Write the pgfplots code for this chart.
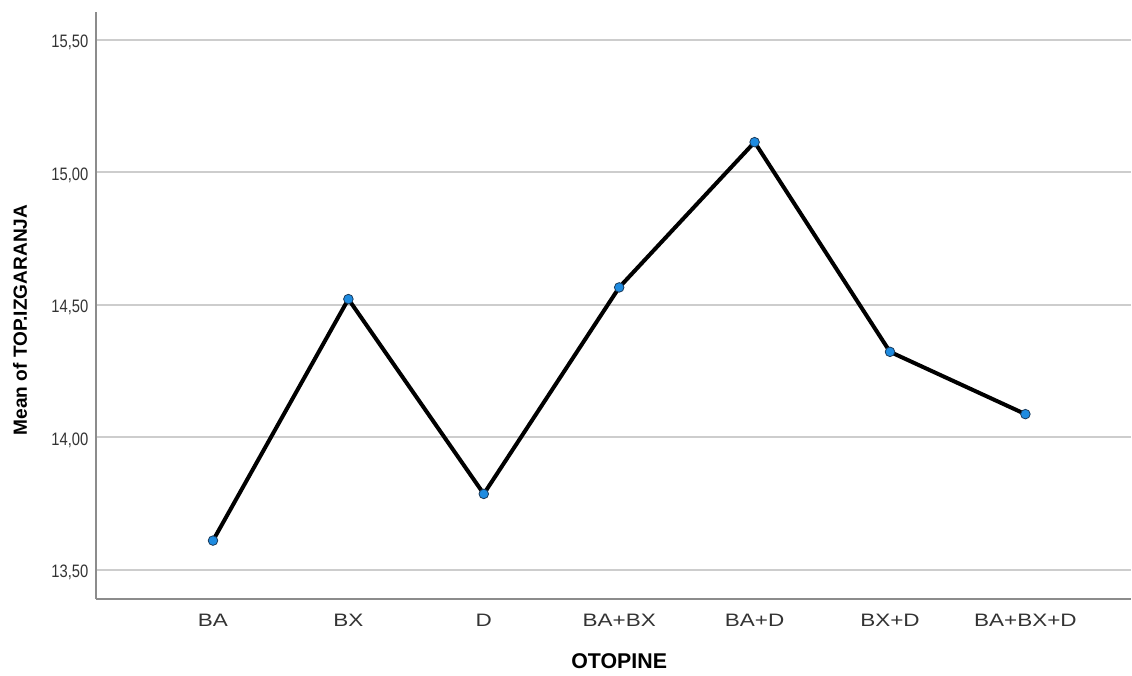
\documentclass[border=0pt]{standalone}
\usepackage{fontspec}
\setmainfont{Liberation Sans}
\newfontfamily\xtfont[FakeStretch=1.25]{Liberation Sans}
\newfontfamily\ytfont[FakeStretch=0.82]{Liberation Sans}
\usepackage{pgfplots}
\pgfplotsset{compat=1.18}
\definecolor{gridc}{HTML}{CDCDCD}
\definecolor{axc}{HTML}{8C8C8C}
\definecolor{markc}{HTML}{1E8BE0}
\definecolor{markd}{HTML}{1A3A5A}
\definecolor{txt}{HTML}{333333}
\begin{document}
\begin{tikzpicture}
\begin{axis}[
  scale only axis, width=776.5pt, height=440pt,
  xmin=-0.866, xmax=6.78, ymin=13.392, ymax=15.605,
  axis x line*=bottom, axis y line*=left,
  axis line style={axc, line width=1.5pt, -},
  xtick={0,1,2,3,4,5,6},
  xticklabels={BA,BX,D,BA+BX,BA+D,BX+D,BA+BX+D},
  ytick={13.5,14,14.5,15,15.5},
  yticklabels={{13,50},{14,00},{14,50},{15,00},{15,50}},
  major tick length=0pt,
  ymajorgrids, grid style={gridc, line width=1.5pt},
  xticklabel style={font=\xtfont\fontsize{13.5}{16}\selectfont, text=txt, yshift=-7.8pt},
  yticklabel style={font=\ytfont\fontsize{13.5}{16}\selectfont, text=black!80, xshift=-2pt, yshift=-2pt},
  xlabel={\textbf{OTOPINE}},
  xlabel style={font=\fontsize{16}{19}\selectfont, at={(axis description cs:0.5056,0)}, anchor=north, yshift=-37.6pt},
  ylabel={\textbf{Mean of TOP.IZGARANJA}},
  ylabel style={font=\fontsize{14.3}{17}\selectfont, at={(axis description cs:-0.0731,0.475)}, anchor=center},
  clip=false,
]
\addplot[black, line width=3pt, mark=*, mark size=3.6pt,
  mark options={fill=markc, draw=markd, line width=0.6pt}]
  coordinates {(0,13.611) (1,14.522) (2,13.787) (3,14.566) (4,15.114) (5,14.323) (6,14.088)};
\end{axis}
\pgfresetboundingbox
\path ([xshift=-71.8pt,yshift=-57.3pt]current axis.south west) rectangle ([xshift=0.75pt,yshift=9pt]current axis.north east);
\end{tikzpicture}
\end{document}
